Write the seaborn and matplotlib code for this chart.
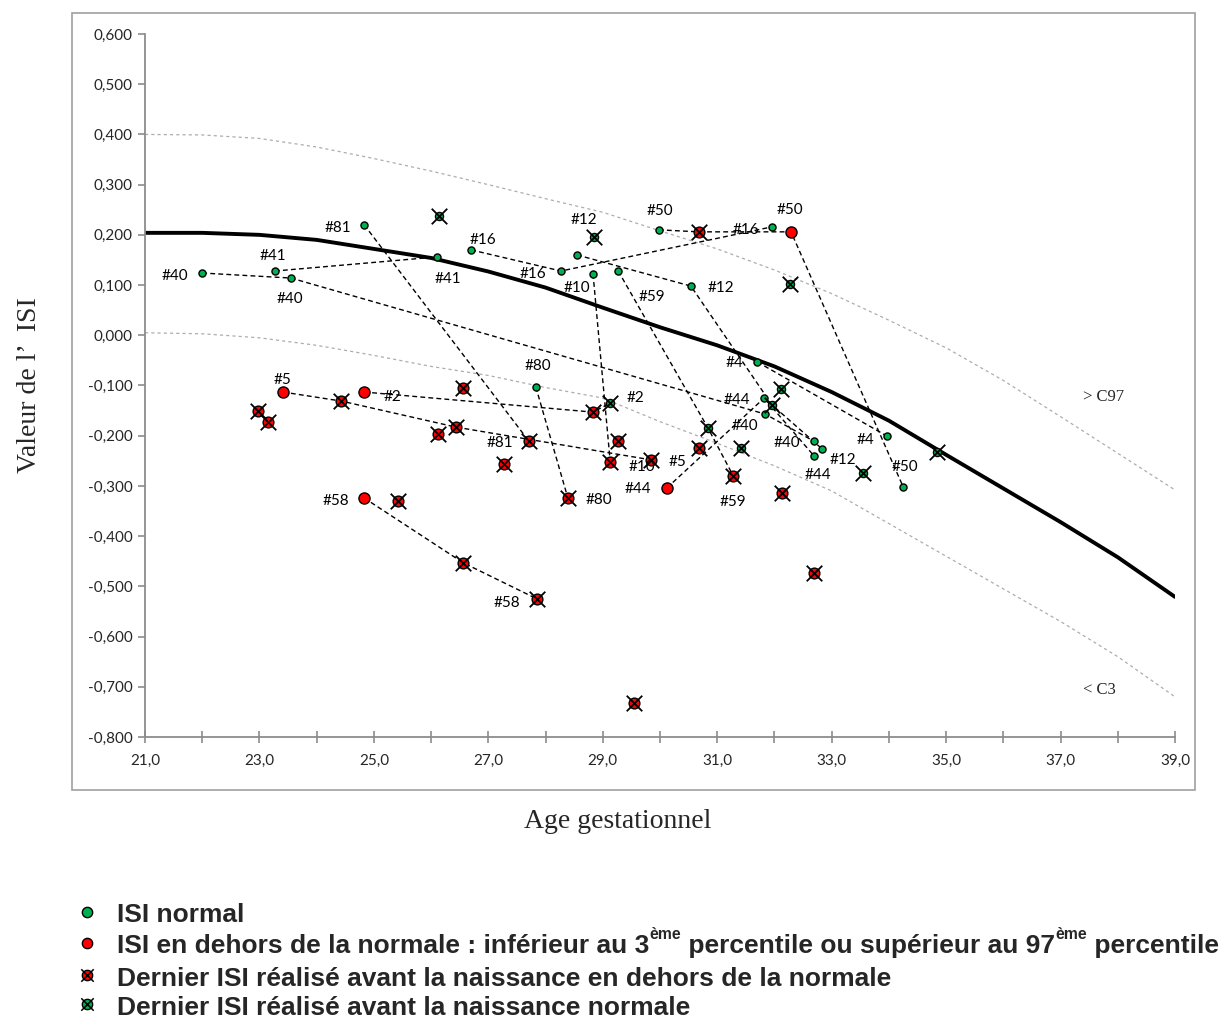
import numpy as np
import pandas as pd
import matplotlib
matplotlib.use("Agg")
import matplotlib.pyplot as plt
import seaborn as sns
from matplotlib.patches import Rectangle
from matplotlib.ticker import FuncFormatter, MultipleLocator, FixedLocator

# ---------------- reference percentile curves ----------------
curve_ga = [21, 22, 23, 24, 25, 26, 27, 28, 29, 30, 31, 32, 33, 34, 35, 36, 37, 38, 39]
curve_p50 = [0.204, 0.204, 0.200, 0.190, 0.172, 0.154, 0.127, 0.095, 0.055, 0.016, -0.020,
             -0.062, -0.113, -0.170, -0.238, -0.305, -0.372, -0.442, -0.521]
curve_p97 = [0.400, 0.399, 0.392, 0.375, 0.352, 0.327, 0.300, 0.272, 0.245, 0.208, 0.172,
             0.130, 0.083, 0.030, -0.025, -0.090, -0.162, -0.235, -0.308]
curve_p3 = [0.005, 0.003, -0.005, -0.020, -0.040, -0.062, -0.080, -0.104, -0.125, -0.172,
            -0.215, -0.260, -0.310, -0.375, -0.440, -0.505, -0.570, -0.640, -0.720]
x_ticks = [21, 23, 25, 27, 29, 31, 33, 35, 37, 39]

# ---------------- ISI measurements ----------------
# kind: N = normal, A = abnormal, LA = last before birth abnormal, LN = last before birth normal
pt_ga = [22.00, 23.55, 31.84, 32.69,
         23.27, 26.10,
         24.83, 27.71,
         26.70, 28.27, 31.96,
         28.55, 30.54, 31.96, 32.83,
         28.83, 29.13,
         29.27, 30.84, 31.28,
         29.98, 30.68, 32.29, 34.25,
         24.83, 28.83, 29.13,
         23.41, 24.43, 26.44, 29.84,
         24.83, 26.56, 27.85,
         27.83, 28.39,
         30.12, 31.82, 32.69,
         31.70, 33.97,
         26.14, 28.85, 32.27, 32.11, 31.42, 33.55, 34.84,
         22.97, 23.15, 26.56, 26.12, 27.27, 25.42, 29.27, 30.68, 32.13, 32.69, 29.55]
pt_isi = [0.124, 0.114, -0.157, -0.211,
          0.128, 0.156,
          0.220, -0.211,
          0.170, 0.128, 0.216,
          0.160, 0.098, -0.139, -0.226,
          0.122, -0.252,
          0.128, -0.185, -0.280,
          0.210, 0.206, 0.206, -0.302,
          -0.113, -0.153, -0.135,
          -0.113, -0.131, -0.183, -0.248,
          -0.324, -0.453, -0.525,
          -0.103, -0.324,
          -0.304, -0.125, -0.240,
          -0.053, -0.201,
          0.238, 0.196, 0.102, -0.107, -0.224, -0.274, -0.232,
          -0.151, -0.173, -0.105, -0.197, -0.256, -0.330, -0.211, -0.224, -0.314, -0.473, -0.732]
pt_kind = ["N", "N", "N", "N",
           "N", "N",
           "N", "LA",
           "N", "N", "N",
           "N", "N", "LN", "N",
           "N", "LA",
           "N", "LN", "LA",
           "N", "LA", "A", "N",
           "A", "LA", "LN",
           "A", "LA", "LA", "LA",
           "A", "LA", "LA",
           "N", "LA",
           "A", "N", "N",
           "N", "N",
           "LN", "LN", "LN", "LN", "LN", "LN", "LN",
           "LA", "LA", "LA", "LA", "LA", "LA", "LA", "LA", "LA", "LA", "LA"]
pt_patient = ["40", "40", "40", "40",
              "41", "41",
              "81", "81",
              "16", "16", "16",
              "12", "12", "12", "12",
              "10", "10",
              "59", "59", "59",
              "50", "50", "50", "50",
              "2", "2", "2",
              "5", "5", "5", "5",
              "58", "58", "58",
              "80", "80",
              "44", "44", "44",
              "4", "4",
              "", "", "", "", "", "", "",
              "", "", "", "", "", "", "", "", "", "", ""]
pt_label = ["#40", "#40", "", "#40",
            "#41", "#41",
            "#81", "#81",
            "#16", "#16", "#16",
            "", "#12", "", "",
            "#10", "#10",
            "#59", "", "#59",
            "#50", "", "#50", "#50",
            "#2", "", "#2",
            "#5", "", "", "#5",
            "#58", "", "#58",
            "#80", "#80",
            "#44", "#44", "#44",
            "#4", "#4",
            "", "#12", "", "", "#40", "#12", "",
            "", "", "", "", "", "", "", "", "", "", ""]
# label placement offsets (pixels, right / down)
lbl_dx = [-27, -1, 0, -27, -2, 11, -26, -29, 12, -28, -26, 0, 30, 0, 0, -16, 32, 34, 0, 0,
          1, 0, -1, 2, 28, 0, 25, 0, 0, 0, 27, -28, 0, -30, 2, 31, -29, -27, 4, -23, -22,
          0, -10, 0, 0, 4, -20, 0, 0, 0, 0, 0, 0, 0, 0, 0, 0, 0, 0]
lbl_dy = [3, 21, 0, 2, -15, 22, 3, 2, -10, 3, 3, 0, 2, 0, 0, 14, 5, 26, 0, 26,
          -19, 0, -22, -20, 5, 0, -5, -12, 0, 0, 2, 3, 0, 4, -21, 2, 1, 2, 19, 1, 4,
          0, -17, 0, 0, -22, -13, 0, 0, 0, 0, 0, 0, 0, 0, 0, 0, 0, 0]

legend_items = [
    ("N", [("ISI normal", False)]),
    ("A", [("ISI en dehors de la normale : inférieur au 3", False), ("ème", True),
           (" percentile ou supérieur au 97", False), ("ème", True), (" percentile", False)]),
    ("LA", [("Dernier ISI réalisé avant la naissance en dehors de la normale", False)]),
    ("LN", [("Dernier ISI réalisé avant la naissance normale", False)]),
]

# ---------------- styling ----------------
sns.set_theme(style="white")
plt.rcParams["font.family"] = ["Lato", "DejaVu Sans"]
W, H = 1223, 1024
GREEN = "#00B050"
RED = "#FF0000"
GREY = "#8C8C8C"

df = pd.DataFrame({"ga": pt_ga, "isi": pt_isi, "kind": pt_kind, "patient": pt_patient,
                   "label": pt_label, "dx": lbl_dx, "dy": lbl_dy})

fig = plt.figure(figsize=(W / 100, H / 100), dpi=100)
fig.patch.set_facecolor("white")
fig.add_artist(Rectangle((72 / W, 1 - 790 / H), (1195 - 72) / W, (790 - 13) / H,
                         transform=fig.transFigure, fill=False, edgecolor="#A0A0A0", lw=1.2))
ax = fig.add_axes([145 / W, 1 - 737 / H, 1030 / W, 703 / H])
ax.set_facecolor("white")

# percentile curves
sns.lineplot(x=curve_ga, y=curve_p97, ax=ax, color="#ADADAD", lw=0.9,
             linestyle=(0, (2.5, 2.5)), legend=False, zorder=1)
sns.lineplot(x=curve_ga, y=curve_p3, ax=ax, color="#ADADAD", lw=0.9,
             linestyle=(0, (2.5, 2.5)), legend=False, zorder=1)
sns.lineplot(x=curve_ga, y=curve_p50, ax=ax, color="black", lw=2.8, legend=False, zorder=2)

# patient trajectories
lines_df = df[df["patient"] != ""]
sns.lineplot(data=lines_df, x="ga", y="isi", units="patient", estimator=None, sort=True,
             color="black", lw=1.0, linestyle=(0, (3.5, 2.3)), legend=False, ax=ax, zorder=3)

# markers
style = {
    "N": dict(color=GREEN, s=26),
    "A": dict(color=RED, s=64),
    "LA": dict(color=RED, s=60),
    "LN": dict(color=GREEN, s=34),
}
for kind, st in style.items():
    sub = df[df["kind"] == kind]
    sns.scatterplot(data=sub, x="ga", y="isi", ax=ax, color=st["color"], s=st["s"],
                    edgecolor="black", linewidth=1.0, legend=False, zorder=4)
    if kind in ("LA", "LN"):
        ax.scatter(sub["ga"], sub["isi"], marker="x", s=125, color="black",
                   linewidths=1.3, zorder=5)

# patient labels
for _, r in df[df["label"] != ""].iterrows():
    ax.annotate(r["label"], (r["ga"], r["isi"]), xytext=(r["dx"], -r["dy"]),
                textcoords="offset pixels", ha="center", va="center", fontsize=11,
                color="black", zorder=6)

ax.text(37.39, -0.123, "> C97", family="Liberation Serif", fontsize=12, ha="left", va="center")
ax.text(37.39, -0.706, "< C3", family="Liberation Serif", fontsize=12, ha="left", va="center")

# axes
ax.set_xlim(21, 39)
ax.set_ylim(-0.8, 0.6)
ax.xaxis.set_major_locator(FixedLocator(x_ticks))
ax.xaxis.set_minor_locator(MultipleLocator(1))
ax.yaxis.set_major_locator(MultipleLocator(0.1))
ax.xaxis.set_major_formatter(FuncFormatter(lambda v, p: f"{v:.1f}".replace(".", ",")))
ax.yaxis.set_major_formatter(FuncFormatter(lambda v, p: f"{round(v, 3) + 0.0:.3f}".replace(".", ",")))
for s in ("top", "right"):
    ax.spines[s].set_visible(False)
for s in ("left", "bottom"):
    ax.spines[s].set_color(GREY)
    ax.spines[s].set_linewidth(1.3)
ax.tick_params(axis="y", which="major", direction="out", length=5, width=1.2, color=GREY,
               labelsize=11, pad=4, left=True)
ax.tick_params(axis="x", which="both", direction="inout", length=8, width=1.2, color=GREY,
               labelsize=11, pad=8, bottom=True)
ax.set_xlabel("Age gestationnel", family="Liberation Serif", fontsize=20)
ax.set_ylabel("Valeur de l\u2019  ISI", family="Liberation Serif", fontsize=20)
ax.xaxis.set_label_coords((618 - 145) / 1030, (737 - 822) / 703)
ax.yaxis.set_label_coords((30 - 145) / 1030, 0.5)
ax.xaxis.label.set_va("center")
ax.yaxis.label.set_va("center")

# legend (custom, below the chart)
lax = fig.add_axes([0, 0, 1, 1], facecolor="none")
lax.set_xlim(0, W)
lax.set_ylim(H, 0)
lax.axis("off")
renderer = fig.canvas.get_renderer()
LFONT = "Liberation Sans"


def seg_width(segs, size):
    total = 0
    for txt, sup in segs:
        t = lax.text(0, 0, txt, fontsize=size * (0.6 if sup else 1), fontweight="bold", family=LFONT)
        total += t.get_window_extent(renderer).width
        t.remove()
    return total


trial = 15
size = trial * 1105 / seg_width(legend_items[1][1], trial)
leg_text_y = [915, 946, 979, 1008]
leg_mark_y = [912, 943, 975, 1004]
for (kind, segs), ty, my in zip(legend_items, leg_text_y, leg_mark_y):
    st = style[kind]
    lax.scatter([87], [my], color=st["color"], s=55, edgecolor="black", linewidth=1.0)
    if kind in ("LA", "LN"):
        lax.scatter([87], [my], marker="x", s=80, color="black", linewidths=1.1)
    x = 117
    for txt, sup in segs:
        fs = size * (0.6 if sup else 1)
        yy = ty - (size * 0.42 * 100 / 72 if sup else 0)
        t = lax.text(x, yy, txt, fontsize=fs, fontweight="bold", family=LFONT,
                     ha="left", va="center")
        x += t.get_window_extent(renderer).width

fig.savefig("out.png", dpi=100, facecolor="white")
